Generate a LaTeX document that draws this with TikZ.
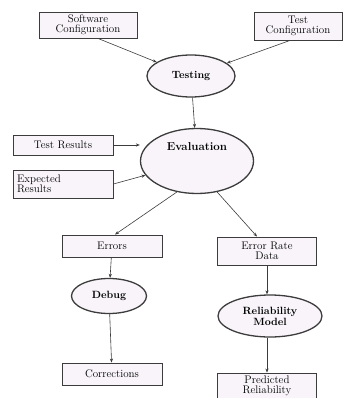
\documentclass[tikz,border=0pt]{standalone}
\usepackage{tikz}
\usetikzlibrary{arrows.meta,shapes.geometric}
\definecolor{boxfill}{RGB}{248, 244, 250}
\definecolor{linegray}{RGB}{60, 60, 60}

\begin{document}
\begin{tikzpicture}[x=1pt, y=-1pt, >={Stealth[length=4pt, width=3.2pt]},
  box/.style={draw=linegray, line width=0.9pt, fill=boxfill, rectangle, inner sep=1pt, align=center, font=\fontsize{11}{10.5}\selectfont},
  oval/.style={draw=linegray, line width=1.3pt, fill=boxfill, ellipse, inner sep=0pt, align=center, font=\bfseries\fontsize{10.5}{11}\selectfont},
  link/.style={->, linegray, line width=0.6pt}]
  \useasboundingbox (0,0) rectangle (343,398);

  % Configurations and testing
  \node[box, minimum width=98pt, minimum height=26pt] (soft) at (88,25) {Software\\Configuration};
  \node[box, minimum width=88pt, minimum height=28pt] (testc) at (298,26) {Test\\Configuration};
  \node[oval, minimum width=88pt, minimum height=42pt] (testing) at (191,76) {Testing};

  % Evaluation
  \node[oval, minimum width=113pt, minimum height=65pt, font=\bfseries\fontsize{11.5}{11.5}\selectfont] (eval) at (197,161) {\raisebox{11pt}[0pt][0pt]{Evaluation}};
  \node[box, minimum width=100pt, minimum height=20pt] (results) at (63,145) {Test Results};
  \node[box, text width=92pt, inner xsep=4pt, minimum height=28pt, align=left] (expected) at (63,184) {Expected\\Results};

  % Outcomes
  \node[box, minimum width=100pt, minimum height=22pt] (errors) at (112,246) {Errors};
  \node[box, minimum width=99pt, minimum height=28pt] (ratedata) at (267,251) {Error Rate\\Data};
  \node[oval, minimum width=75pt, minimum height=35pt] (debug) at (109,296) {Debug};
  \node[oval, minimum width=104pt, minimum height=42pt] (relmodel) at (270,316) {Reliability\\Model};
  \node[box, minimum width=100pt, minimum height=22pt] (corrections) at (112,374) {Corrections};
  \node[box, minimum width=99pt, minimum height=26pt] (predicted) at (267,386) {Predicted\\Reliability};

  % Arrows
  \draw[link] ([xshift=10pt]soft.south) -- (testing);
  \draw[link] ([xshift=-8pt]testc.south) -- (testing);
  \draw[link] (testing) -- (eval);
  \draw[link] (results.east) -- (results.east -| eval.west);
  \draw[link] (expected.east) -- (eval);
  \draw[link] (eval.237) -- ([xshift=3pt]errors.north);
  \draw[link] (eval.303) -- ([xshift=-10pt]ratedata.north);
  \draw[link] (errors) -- (debug);
  \draw[link] (ratedata.south) -- (ratedata.south |- relmodel.north);
  \draw[link] (debug) -- (corrections);
  \draw[link] (relmodel.south -| predicted) -- (predicted);
\end{tikzpicture}
\end{document}
